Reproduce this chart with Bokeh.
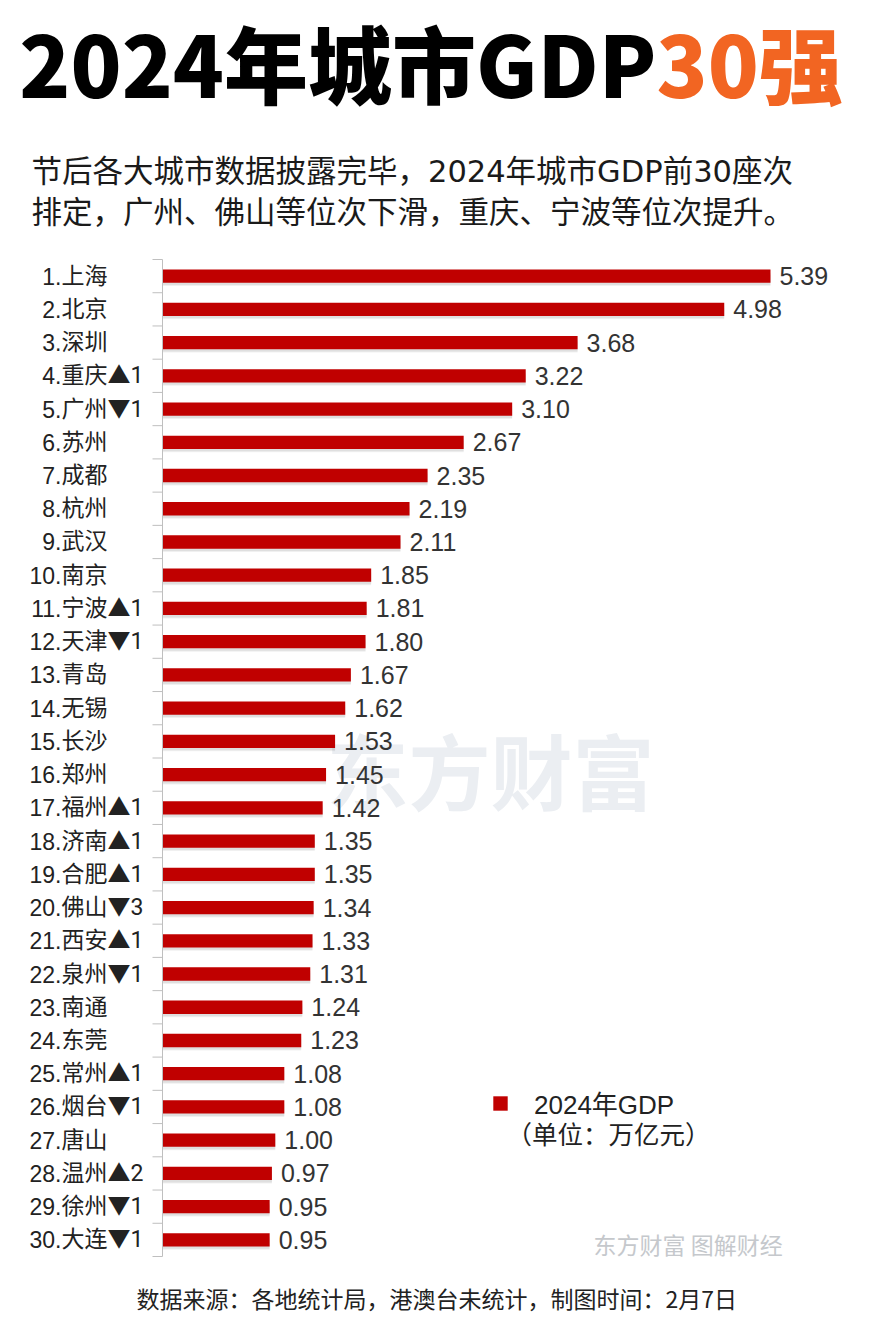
from bokeh.plotting import figure
from bokeh.models import Range1d, Label, Legend, LegendItem, ColumnDataSource
from bokeh.transform import dodge
from bokeh.embed import file_html
from bokeh.resources import INLINE
from bokeh.core.properties import value

# ---------------- data ----------------
cities = ["上海", "北京", "深圳", "重庆", "广州", "苏州", "成都", "杭州", "武汉", "南京",
          "宁波", "天津", "青岛", "无锡", "长沙", "郑州", "福州", "济南", "合肥", "佛山",
          "西安", "泉州", "南通", "东莞", "常州", "烟台", "唐山", "温州", "徐州", "大连"]
changes = ["", "", "", "▲1", "▼1", "", "", "", "", "",
           "▲1", "▼1", "", "", "", "", "▲1", "▲1", "▲1", "▼3",
           "▲1", "▼1", "", "", "▲1", "▼1", "", "▲2", "▼1", "▼1"]
gdp = [5.39, 4.98, 3.68, 3.22, 3.10, 2.67, 2.35, 2.19, 2.11, 1.85,
       1.81, 1.80, 1.67, 1.62, 1.53, 1.45, 1.42, 1.35, 1.35, 1.34,
       1.33, 1.31, 1.24, 1.23, 1.08, 1.08, 1.00, 0.97, 0.95, 0.95]

title_main = "2024年城市GDP"
title_hi = "30强"
subtitle1 = "节后各大城市数据披露完毕，2024年城市GDP前30座次"
subtitle2 = "排定，广州、佛山等位次下滑，重庆、宁波等位次提升。"
legend_label = "2024年GDP"
legend_unit = "（单位：万亿元）"
footer = "数据来源：各地统计局，港澳台未统计，制图时间：2月7日"
watermark_big = "东方财富"
watermark_small = "东方财富 图解财经"

CJK = "Noto Sans CJK SC"
HEAVY = "Noto Sans CJK SC Black, Noto Sans CJK SC"
LAT = "Liberation Sans, Noto Sans CJK SC"
SUBF = "DejaVu Sans, Noto Sans CJK SC"
NAMEF = "Roboto, Noto Sans CJK SC"

# ---------------- layout (pixels of the page) ----------------
W, H = 873, 1320
AXIS_X = 162          # where the value axis starts (x = 0)
ROWS_TOP, ROWS_BOTTOM = 259, 1256
PX_PER_UNIT = 112.8
n = len(cities)
row_h = (ROWS_BOTTOM - ROWS_TOP) / n


def X(px):
    return (px - AXIS_X) / PX_PER_UNIT


def Y(py):
    return 0.5 + (ROWS_BOTTOM - py) / row_h


ypos = [n - i for i in range(n)]
ranks = [f"{i + 1}." for i in range(n)]
names = [c + ch for c, ch in zip(cities, changes)]
vals = [f"{v:.2f}" for v in gdp]
src = ColumnDataSource(dict(y=ypos, gdp=gdp, val=vals, rank=ranks, name=names))
bounds = [k + 0.5 for k in range(n + 1)]

p = figure(width=W, height=H,
           x_range=Range1d(X(0), X(W)), y_range=Range1d(Y(H), Y(0)),
           output_backend="svg", toolbar_location=None,
           x_axis_location=None, y_axis_location=None, min_border=0)
p.grid.visible = False
p.outline_line_color = None
p.background_fill_color = "white"
p.border_fill_color = "white"

# big watermark behind the bars
p.add_layout(Label(x=X(326), y=Y(768), text=watermark_big, text_align="left",
                   text_baseline="middle", text_font=CJK, text_font_style="bold",
                   text_font_size="82px", text_color="#EBEEF2", level="underlay"))

# bar shadows + bars
p.hbar(y=dodge("y", -0.13), right="gdp", left=0, height=0.34, source=src,
       fill_color="#000000", fill_alpha=0.06, line_color=None)
p.hbar(y=dodge("y", -0.09), right="gdp", left=0, height=0.36, source=src,
       fill_color="#000000", fill_alpha=0.07, line_color=None)
bars = p.hbar(y="y", right="gdp", left=0, height=0.4, source=src,
              fill_color="#C00000", line_color=None)

# value labels
p.text(x="gdp", y="y", text="val", source=src, x_offset=9,
       text_align="left", text_baseline="middle",
       text_font=value("Liberation Sans"), text_font_size="25px",
       text_color="#333333")

# category axis: line, separators between rows, labels
p.segment(x0=0, y0=bounds[0], x1=0, y1=bounds[-1], line_color="#BFBFBF", line_width=1)
p.segment(x0=X(152), y0=bounds, x1=0, y1=bounds, line_color="#BFBFBF", line_width=1)
p.text(x=X(61), y="y", text="rank", source=src, text_align="right",
       text_baseline="middle", text_font=value("Liberation Sans"),
       text_font_size="23px", text_color="#222222")
p.text(x=X(61), y="y", text="name", source=src, text_align="left",
       text_baseline="middle", text_font=value(NAMEF),
       text_font_size="23px", text_color="#222222")

# titles
p.add_layout(Label(x=X(656), y=Y(61), text=title_main, text_align="right",
                   text_baseline="middle", text_font=HEAVY, text_font_style="bold",
                   text_font_size="84px", text_color="#000000"))
p.add_layout(Label(x=X(656), y=Y(61), text=title_hi, text_align="left",
                   text_baseline="middle", text_font=HEAVY, text_font_style="bold",
                   text_font_size="84px", text_color="#F26522"))
p.add_layout(Label(x=X(31), y=Y(171), text=subtitle1, text_align="left",
                   text_baseline="middle", text_font=SUBF,
                   text_font_size="30.5px", text_color="#1A1A1A"))
p.add_layout(Label(x=X(31), y=Y(212), text=subtitle2, text_align="left",
                   text_baseline="middle", text_font=SUBF,
                   text_font_size="30.5px", text_color="#1A1A1A"))

# legend
legend = Legend(items=[LegendItem(label=legend_label, renderers=[bars])],
                location=(491, H - 1121),
                background_fill_alpha=0, border_line_color=None,
                padding=0, margin=0, spacing=0,
                glyph_width=18, glyph_height=18, label_standoff=25,
                label_text_font_size="26px", label_text_font=LAT,
                label_text_color="#222222")
p.add_layout(legend, "center")
p.add_layout(Label(x=X(506), y=Y(1132), text=legend_unit, text_align="left",
                   text_baseline="middle", text_font=CJK,
                   text_font_size="25.5px", text_color="#222222"))

# small watermark and footer
p.add_layout(Label(x=X(593), y=Y(1243), text=watermark_small, text_align="left",
                   text_baseline="middle", text_font=CJK,
                   text_font_size="23px", text_color="#C5C8CC"))
p.add_layout(Label(x=X(136), y=Y(1297), text=footer, text_align="left",
                   text_baseline="middle", text_font=CJK,
                   text_font_size="23px", text_color="#222222"))

open("out.html", "w").write(file_html(p, INLINE))
